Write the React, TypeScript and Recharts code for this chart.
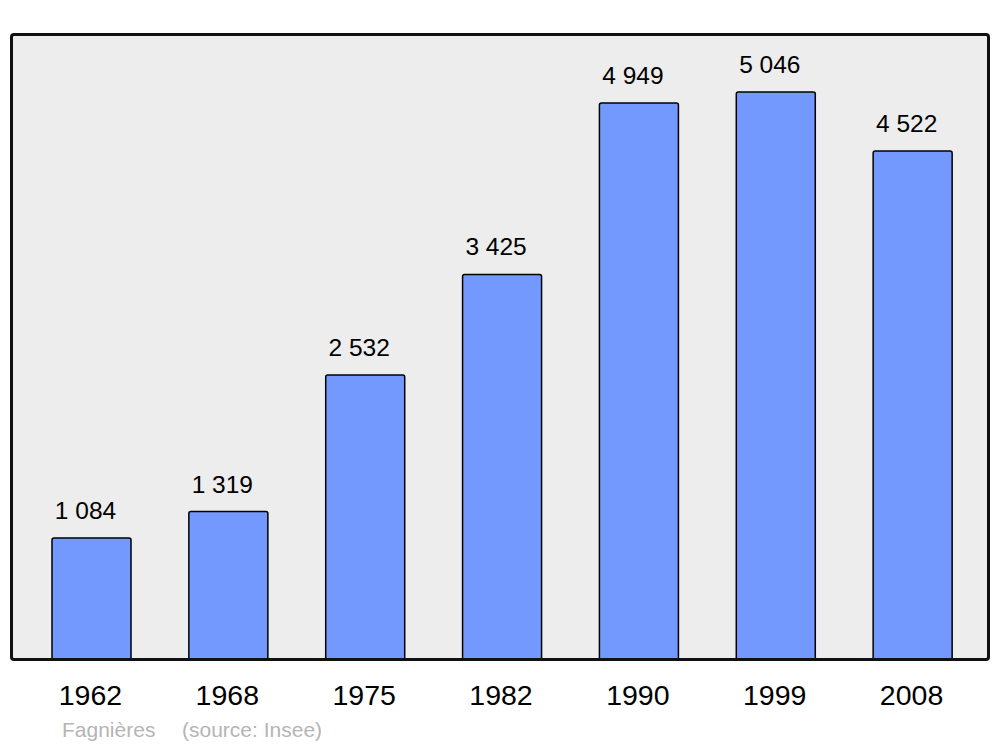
import React from "react";
import { BarChart, Bar, XAxis, YAxis, CartesianGrid, LabelList } from "recharts";

const years = ["1962", "1968", "1975", "1982", "1990", "1999", "2008"];
const population = [1084, 1319, 2532, 3425, 4949, 5046, 4522];
const valueLabels = ["1 084", "1 319", "2 532", "3 425", "4 949", "5 046", "4 522"];

const data = years.map((year, i) => ({ year, population: population[i], label: valueLabels[i] }));

const FONT = "'Liberation Sans', Arial, sans-serif";
const Y_MAX = 5561;

const ValueLabel = (props: any) => {
  const { x, y, width, value } = props;
  return (
    <text x={x + width / 2 - 6} y={y - 19} textAnchor="middle" fontSize={24.5} fontFamily={FONT} fill="#000">
      {value}
    </text>
  );
};

const YearTick = (props: any) => {
  const { x, y, payload } = props;
  return (
    <text x={x - 1} y={y + 37} textAnchor="middle" fontSize={28.5} fontFamily={FONT} fill="#000">
      {payload.value}
    </text>
  );
};

const App: React.FC = () => {
  return (
    <div style={{ position: "absolute", left: 0, top: 0, width: 1000, height: 747, background: "#fff" }}>
      <BarChart width={1000} height={747} data={data} margin={{ top: 34, right: 11, bottom: 57, left: 11 }}>
        <CartesianGrid horizontal={false} vertical={false} fill="#ededed" />
        <XAxis
          dataKey="year"
          axisLine={false}
          tickLine={false}
          height={30}
          padding={{ left: 12, right: 8 }}
          tick={<YearTick />}
          interval={0}
        />
        <YAxis hide domain={[0, Y_MAX]} />
        <Bar
          dataKey="population"
          fill="#7399ff"
          stroke="#000"
          strokeWidth={1.5}
          barSize={79}
          radius={[2, 2, 0, 0]}
          isAnimationActive={false}
        >
          <LabelList dataKey="label" content={<ValueLabel />} />
        </Bar>
      </BarChart>
      {/* frame around the plot area */}
      <div
        style={{
          position: "absolute",
          left: 10,
          top: 33,
          width: 980,
          height: 628,
          boxSizing: "border-box",
          border: "3px solid #111",
          borderRadius: 4,
          pointerEvents: "none",
        }}
      />
      <div
        style={{
          position: "absolute",
          left: 62,
          top: 717,
          fontFamily: FONT,
          fontSize: 21,
          color: "#b5b5b5",
          whiteSpace: "nowrap",
          lineHeight: "26px",
        }}
      >
        <span>Fagnières</span>
        <span style={{ position: "absolute", left: 120 }}>(source: Insee)</span>
      </div>
    </div>
  );
};

export default App;
